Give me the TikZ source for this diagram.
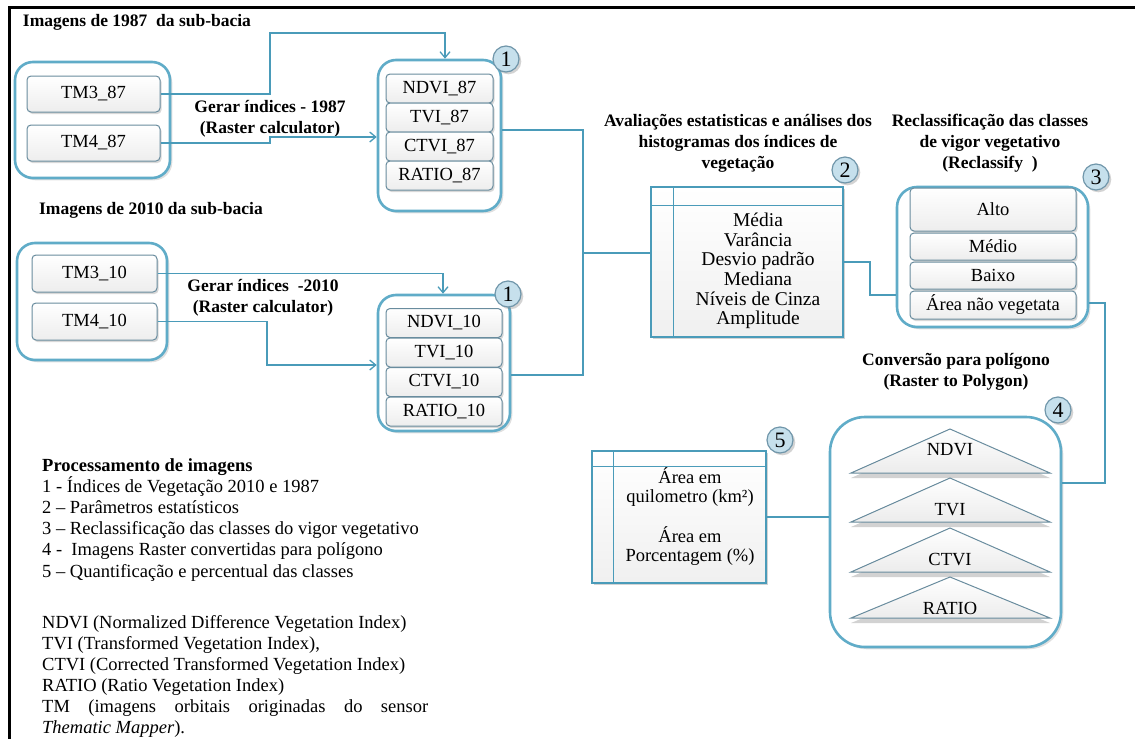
\documentclass[tikz,border=0pt]{standalone}
\usepackage{fontspec}
\setmainfont{Liberation Serif}
\usetikzlibrary{arrows.meta,shadows}
\definecolor{lineblue}{RGB}{74,155,185}
\definecolor{grpblue}{RGB}{96,172,200}
\definecolor{itemline}{RGB}{105,140,158}
\definecolor{badgefill}{RGB}{198,224,236}
\definecolor{badgeline}{RGB}{112,150,170}
\tikzset{
  grp/.style={draw=grpblue, line width=2.6pt, rounded corners=18pt, fill=white,
    drop shadow={opacity=.25}},
  item/.style={draw=itemline, line width=1pt, rounded corners=4pt, top color=white,
    bottom color=gray!14, inner sep=0pt,
    drop shadow={opacity=.3, shadow xshift=1.5pt, shadow yshift=-2pt}},
  tbl/.style={draw=lineblue, line width=1.3pt, top color=white, bottom color=gray!12,
    drop shadow={opacity=.35}},
  badge/.style={circle, draw=badgeline, line width=1.2pt, fill=badgefill,
    minimum size=26pt, inner sep=0pt, font=\fontsize{22}{22}\selectfont,
    drop shadow={opacity=.35}},
  conn/.style={draw=lineblue, line width=1.3pt},
  arr/.style={-{Straight Barb[length=6pt,width=10pt]}},
  ttl/.style={font=\fontsize{17.5}{21}\selectfont\bfseries, align=center},
}
\begin{document}
\begin{tikzpicture}[x=1pt, y=-1pt, font=\fontsize{18.5}{19.6}\selectfont]
  \useasboundingbox (0,0) rectangle (1135,739);
  \draw[line width=3pt] (1135,7) -- (9,7) -- (9,739);

  % imagens 1987
  \node[ttl] (t87) at (137,22) {Imagens de 1987\ \ da sub-bacia};
  \node[grp, minimum width=155pt, minimum height=116pt] (g87) at (92.5,120) {};
  \node[item, minimum width=133pt, minimum height=36pt] (tm387) at (93.5,94) {TM3\_87};
  \node[item, minimum width=133pt, minimum height=36pt] (tm487) at (93.5,143) {TM4\_87};
  \node[grp, minimum width=123pt, minimum height=151pt] (box87) at (439.5,135.5) {};
  \foreach \n/\y in {NDVI/88.5, TVI/117.5, CTVI/146.5, RATIO/175.5}
    \node[item, minimum width=107pt, minimum height=29pt] (\n87) at (439.5,\y) {\n\_87};
  \node[ttl] (gen87) at (270,118.5) {Gerar índices - 1987\\(Raster calculator)};

  % imagens 2010
  \node[ttl] (t10) at (151,210) {Imagens de 2010 da sub-bacia};
  \node[grp, minimum width=150pt, minimum height=117pt] (g10) at (92,301.5) {};
  \node[item, minimum width=125pt, minimum height=37pt] (tm310) at (94.5,273.5) {TM3\_10};
  \node[item, minimum width=125pt, minimum height=37pt] (tm410) at (94.5,321.5) {TM4\_10};
  \node[grp, minimum width=132pt, minimum height=136pt] (box10) at (444,363) {};
  \foreach \n/\y in {NDVI/323, TVI/352.5, CTVI/382, RATIO/411.5}
    \node[item, minimum width=116pt, minimum height=29pt] (\n10) at (444,\y) {\n\_10};
  \node[ttl] (gen10) at (263,298) {Gerar índices\ \ -2010\\(Raster calculator)};

  % estatisticas
  \node[ttl] (t2) at (738,143) {Avaliações estatisticas e análises dos\\histogramas dos índices de\\vegetação};
  \node[tbl, minimum width=192pt, minimum height=150pt] (stats) at (747,262) {};
  \draw[conn] ([xshift=23pt]stats.north west) -- ([xshift=23pt]stats.south west);
  \draw[conn] ([yshift=-19pt]stats.north west) -- ([yshift=-19pt]stats.north east);
  \node[align=center, font=\fontsize{19.5}{19.6}\selectfont] (stxt) at (758,271)
    {Média\\Varância\\Desvio padrão\\Mediana\\Níveis de Cinza\\Amplitude};

  % reclassificacao
  \node[ttl] (t3) at (990,143) {Reclassificação das classes\\de vigor vegetativo\\(Reclassify\ \ )};
  \node[grp, rounded corners=20pt, minimum width=191pt, minimum height=140pt] (recl) at (992.5,257) {};
  \node[item, minimum width=166pt, minimum height=43pt] (alto) at (993,209.5) {Alto};
  \node[item, minimum width=166pt, minimum height=27pt] (medio) at (993,246.5) {Médio};
  \node[item, minimum width=166pt, minimum height=27pt] (baixo) at (993,275.5) {Baixo};
  \node[item, minimum width=166pt, minimum height=28pt] (nveg) at (993,305) {Área não vegetata};

  % poligonos
  \node[ttl] (t4) at (956,372) {Conversão para polígono\\(Raster to Polygon)};
  \node[grp, rounded corners=35pt, minimum width=231pt, minimum height=230pt] (poly) at (945.5,532) {};
  \foreach \n/\ya/\yb/\yt in {NDVI/429/473/450, TVI/478/522/510, CTVI/528/572/560, RATIO/577/618/608}{
    \path[draw=itemline, line width=1pt, top color=white, bottom color=gray!15,
      drop shadow={opacity=.35, shadow xshift=0pt, shadow yshift=-5pt}]
      (851,\yb) -- (950,\ya) -- (1050,\yb) -- cycle;
    \node (tri\n) at (950,\yt) {\n};
  }

  % areas
  \node[tbl, minimum width=174pt, minimum height=132pt] (area) at (679,517) {};
  \draw[conn] ([xshift=22pt]area.north west) -- ([xshift=22pt]area.south west);
  \draw[conn] ([yshift=-16pt]area.north west) -- ([yshift=-16pt]area.north east);
  \node[align=center] (km) at (690,487) {Área em\\quilometro (km²)};
  \node[align=center] (pct) at (690,546) {Área em\\Porcentagem (\%)};

  % ligacoes
  \draw[conn,arr] (tm387.east) -| (270,33) -| ([xshift=5.5pt]box87.north);
  \draw[conn,arr] (tm487.east) -| (270,137) -- (box87.west |- 0,137);
  \draw[conn,arr] (tm310.east) -| ([xshift=-1pt]box10.north);
  \draw[conn,arr] (tm410.east) -| (267,365) -- (box10.west |- 0,365);
  \coordinate (jn) at (583,253);
  \draw[conn] ([yshift=5.5pt]box87.east) -| (jn);
  \draw[conn] ([yshift=-12pt]box10.east) -| (jn);
  \draw[conn] (jn) -- (stats.west |- jn);
  \draw[conn] (stats.east) -| (870,295) -- (recl.west |- 0,295);
  \draw[conn] ([yshift=-46pt]recl.east) -| (1105,483) -- (poly.east |- 0,483);
  \draw[conn] (area.east) -- (poly.west |- area.east);

  % numeros
  \node[badge] (n1a) at (506,59) {1};
  \node[badge] (n1b) at (508,294) {1};
  \node[badge] (n2) at (845,170) {2};
  \node[badge] (n3) at (1096,177) {3};
  \node[badge] (n4) at (1058,410) {4};
  \node[badge] (n5) at (780,440) {5};

  % legenda
  \node[anchor=base west, align=left, inner sep=0pt, font=\fontsize{18.5}{21.2}\selectfont] (leg1) at (42,577)
    {\textbf{Processamento de imagens}\\
     1 - Índices de Vegetação 2010 e 1987\\
     2 – Parâmetros estatísticos\\
     3 – Reclassificação das classes do vigor vegetativo\\
     4 -\ \ Imagens Raster convertidas para polígono\\
     5 – Quantificação e percentual das classes};
  \node[anchor=base west, align=left, inner sep=0pt, font=\fontsize{18.5}{21}\selectfont] (leg2) at (42,733.5)
    {NDVI (Normalized Difference Vegetation Index)\\
     TVI (Transformed Vegetation Index),\\
     CTVI (Corrected Transformed Vegetation Index)\\
     RATIO (Ratio Vegetation Index)\\
     \makebox[386pt][s]{TM (imagens orbitais originadas do sensor}\\
     \textit{Thematic Mapper}).};
\end{tikzpicture}
\end{document}
